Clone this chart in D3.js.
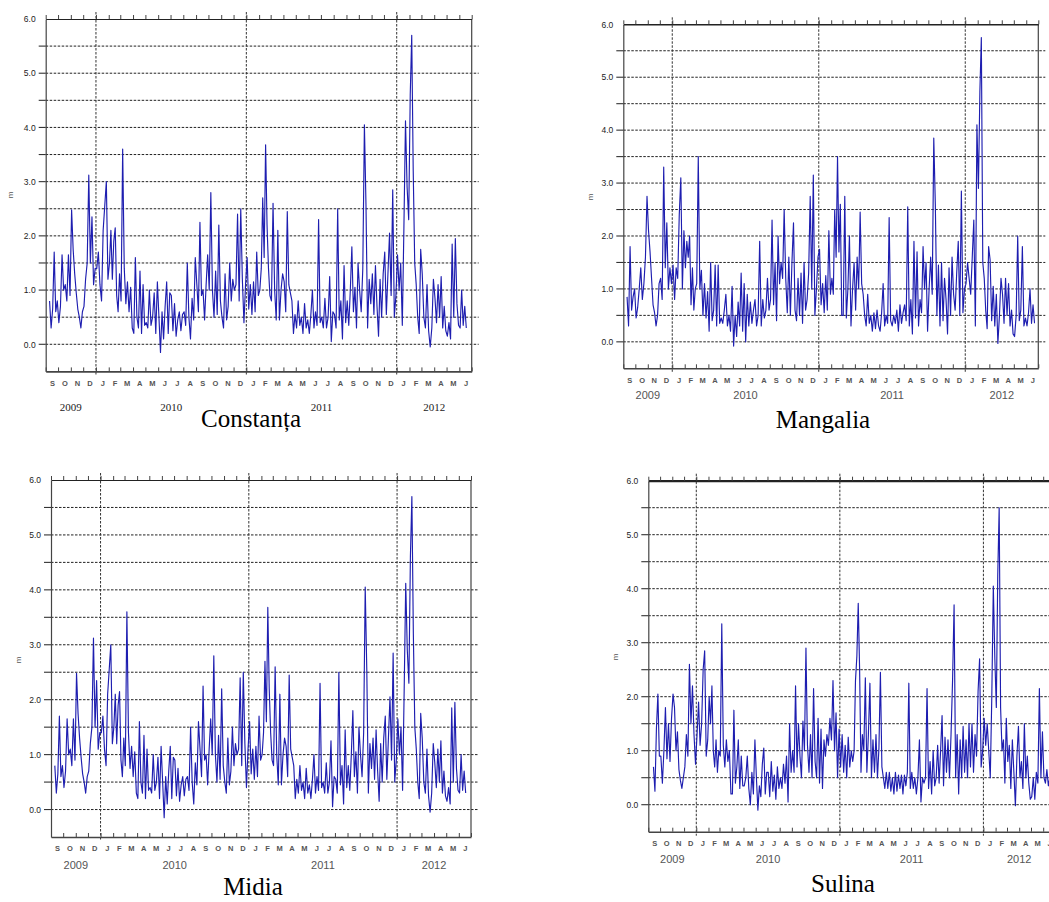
<!DOCTYPE html>
<html>
<head>
<meta charset="utf-8">
<script src="https://cdn.jsdelivr.net/npm/d3@7"></script>
<style>
body { margin: 0; background: #fff; }
</style>
</head>
<body>
<script>
// Significant wave height (m), 8 readings per month, Sep 2009 .. Jun 2012
var monthLetters = ["S","O","N","D","J","F","M","A","M","J","J","A","S","O","N","D",
                    "J","F","M","A","M","J","J","A","S","O","N","D","J","F","M","A","M","J"];
var years = [2009, 2010, 2011, 2012];
var yTicks = [0, 1, 2, 3, 4, 5, 6];
var gridLevels = [0, 0.5, 1, 1.5, 2, 2.5, 3, 3.5, 4, 4.5, 5, 5.5];

var constantaHs = [
    [null, null, 0.8, 0.3, 0.65, 1.7, 0.6, 0.8],
    [0.4, 0.7, 1.65, 1.0, 1.1, 0.8, 1.65, 0.9],
    [2.48, 1.75, 1.3, 0.95, 0.65, 0.5, 0.3, 0.6],
    [0.7, 1.2, 1.5, 3.12, 1.5, 2.35, 1.1, 1.4],
    [1.4, 1.7, 1.1, 0.8, 2.1, 2.55, 3.0, 1.2],
    [1.5, 2.1, 1.2, 1.9, 2.15, 0.9, 0.6, 1.3],
    [0.8, 3.6, 1.4, 0.75, 1.15, 0.6, 1.05, 0.3],
    [0.2, 1.6, 0.5, 0.3, 1.35, 0.2, 1.1, 0.35],
    [0.4, 0.3, 1.0, 0.35, 0.5, 0.95, 0.2, 1.15],
    [0.5, -0.15, 0.6, 0.1, 0.7, 1.15, 0.2, 0.95],
    [0.9, 0.25, 0.75, 0.15, 0.45, 0.6, 0.25, 0.55],
    [0.6, 0.35, 1.5, 0.5, 0.1, 0.85, 0.45, 1.6],
    [1.1, 0.6, 2.25, 0.9, 1.0, 0.45, 1.1, 1.65],
    [1.0, 2.8, 1.0, 0.5, 1.35, 0.55, 2.2, 0.8],
    [0.5, 0.3, 1.3, 0.45, 0.7, 1.5, 0.8, 1.2],
    [1.0, 1.1, 2.4, 0.8, 2.5, 1.2, 0.4, 1.1],
    [1.6, 0.65, 1.1, 0.55, 1.15, 0.6, 1.7, 0.9],
    [1.0, 1.4, 2.7, 1.6, 3.68, 2.2, 1.4, 0.9],
    [0.8, 2.6, 1.0, 0.45, 2.1, 0.45, 1.0, 1.3],
    [1.15, 0.6, 2.45, 1.1, 0.95, 0.8, 0.2, 0.55],
    [0.3, 0.8, 0.35, 0.5, 0.2, 0.75, 0.3, 0.45],
    [0.2, 0.55, 1.0, 0.3, 0.6, 0.35, 2.3, 0.4],
    [0.5, 0.3, 0.85, 0.3, 0.5, 1.25, 0.05, 0.6],
    [0.55, 0.3, 2.5, 0.45, 0.8, 0.1, 1.45, 0.4],
    [0.8, 0.35, 1.0, 1.8, 0.6, 1.05, 0.3, 1.5],
    [1.0, 0.6, 1.4, 4.05, 2.55, 0.3, 1.2, 0.75],
    [1.3, 0.55, 1.45, 0.7, 0.15, 1.2, 0.5, 1.3],
    [1.7, 0.55, 1.3, 2.05, 0.9, 2.85, 0.5, 0.9],
    [1.65, 1.0, 1.5, 0.35, 2.15, 4.12, 2.9, 2.3],
    [4.6, 5.7, 3.2, 1.5, 1.1, 0.5, 0.2, 1.75],
    [1.3, 0.5, 0.3, 1.1, 0.25, -0.05, 0.3, 1.2],
    [0.85, 0.4, 1.1, 0.5, 1.25, 0.3, 0.7, 0.25],
    [0.15, 0.4, 0.1, 1.85, 0.5, 1.95, 0.75, 0.35],
    [0.3, 1.0, 0.35, 0.7, 0.3, null, null, null]
];

var mangaliaHs = [
    [null, null, 0.85, 0.3, 1.8, 0.6, 0.85, 1.0],
    [0.45, 0.65, 1.0, 1.4, 0.8, 1.1, 1.6, 2.75],
    [2.1, 1.7, 1.2, 0.7, 0.55, 0.3, 0.5, 1.1],
    [1.2, 0.8, 3.3, 1.4, 2.25, 1.0, 1.4, 1.1],
    [1.45, 0.8, 1.4, 1.2, 2.4, 3.1, 1.0, 2.1],
    [1.4, 1.9, 1.6, 2.0, 0.7, 1.4, 0.6, 1.0],
    [1.1, 3.5, 1.0, 1.35, 0.5, 1.1, 0.45, 0.95],
    [0.2, 1.5, 0.4, 0.6, 1.45, 0.3, 1.45, 0.35],
    [0.45, 0.35, 0.6, 0.9, 0.3, 0.5, 0.2, 1.05],
    [-0.08, 0.5, 0.1, 0.75, 0.3, 1.3, 0.2, 1.1],
    [0.0, 0.9, 0.3, 0.75, 0.35, 0.6, 0.8, 0.3],
    [0.5, 1.9, 0.3, 0.8, 0.45, 0.6, 1.2, 0.6],
    [0.8, 2.3, 0.7, 1.5, 0.4, 2.0, 1.1, 1.5],
    [1.2, 2.5, 1.2, 0.55, 1.6, 0.5, 1.5, 2.25],
    [0.6, 0.4, 1.2, 0.5, 1.3, 0.35, 1.5, 0.6],
    [0.8, 1.3, 2.75, 1.0, 3.15, 0.5, 1.0, 1.6],
    [1.75, 0.7, 1.1, 0.55, 1.25, 0.6, 2.1, 0.9],
    [1.2, 0.9, 2.5, 1.6, 3.5, 1.7, 2.6, 0.5],
    [0.5, 2.75, 0.45, 1.0, 2.0, 0.3, 1.0, 1.5],
    [0.6, 1.6, 1.0, 2.45, 1.1, 0.9, 0.5, 0.3],
    [0.9, 0.35, 0.5, 0.2, 0.55, 0.25, 0.6, 0.3],
    [0.2, 0.55, 1.1, 0.3, 0.5, 0.35, 2.35, 0.4],
    [0.3, 0.5, 0.35, 0.6, 0.2, 0.7, 0.35, 0.55],
    [0.7, 0.4, 2.55, 0.3, 0.8, 0.15, 1.9, 0.45],
    [1.7, 0.3, 0.8, 0.55, 1.8, 1.0, 1.5, 0.2],
    [1.0, 1.6, 0.9, 3.85, 2.6, 0.5, 1.45, 0.3],
    [1.5, 0.4, 1.2, 0.8, 0.15, 1.4, 0.5, 1.6],
    [0.9, 0.6, 1.3, 1.9, 0.5, 2.85, 0.55, 1.0],
    [1.1, 1.5, 1.2, 0.9, 1.6, 2.3, 0.3, 4.1],
    [2.9, 4.72, 5.75, 1.5, 1.2, 0.6, 0.25, 1.8],
    [1.55, 0.4, 1.05, 0.3, 0.9, -0.03, 0.5, 1.2],
    [0.9, 0.35, 1.2, 0.5, 1.1, 0.3, 0.6, 0.15],
    [0.1, 0.5, 2.0, 0.4, 0.6, 1.8, 0.3, 0.45],
    [0.3, 0.55, 1.0, 0.35, 0.7, 0.35, null, null]
];

// Midia reads the same as Constanta in the picture
var midiaHs = constantaHs;

var sulinaHs = [
    [null, null, null, 0.7, 0.25, 1.4, 2.05, 0.9],
    [0.9, 0.4, 1.0, 1.8, 0.85, 1.5, 0.8, 1.6],
    [2.05, 1.8, 1.0, 1.35, 0.65, 0.45, 0.3, 0.5],
    [0.7, 1.3, 0.9, 2.6, 1.5, 2.2, 1.3, 0.75],
    [1.3, 1.9, 1.1, 1.5, 2.5, 2.85, 0.9, 1.2],
    [2.0, 1.5, 2.2, 1.0, 0.7, 1.2, 0.6, 1.0],
    [0.9, 3.35, 1.1, 0.7, 1.2, 0.8, 1.0, 0.2],
    [0.2, 1.75, 0.4, 0.7, 1.2, 0.3, 0.9, 0.35],
    [0.35, 0.5, 0.9, 0.3, 0.0, 0.6, 0.2, 1.2],
    [0.5, -0.1, 0.35, 0.15, 0.75, 1.05, 0.2, 0.6],
    [0.6, 0.15, 0.8, 0.25, 0.55, 0.1, 0.7, 0.3],
    [0.5, 0.3, 0.75, 0.4, 0.9, 0.05, 1.5, 0.6],
    [1.0, 0.6, 2.2, 0.7, 1.5, 0.9, 0.5, 1.55],
    [1.0, 2.9, 1.1, 0.6, 1.3, 0.5, 2.15, 0.8],
    [0.5, 1.6, 0.4, 1.4, 0.3, 1.2, 0.9, 1.3],
    [1.1, 1.6, 1.2, 2.3, 1.0, 1.7, 0.5, 1.4],
    [0.7, 1.3, 0.6, 1.1, 0.5, 1.25, 0.7, 1.0],
    [0.8, 1.0, 2.3, 2.75, 3.73, 2.5, 0.6, 1.3],
    [1.0, 2.35, 0.6, 1.3, 2.25, 0.5, 1.2, 0.6],
    [1.3, 0.5, 1.05, 2.45, 0.7, 0.5, 0.3, 0.6],
    [0.3, 0.6, 0.25, 0.5, 0.2, 0.6, 0.25, 0.55],
    [0.3, 0.55, 0.2, 0.55, 0.35, 0.6, 2.25, 0.3],
    [0.6, 0.3, 0.5, 0.2, 0.5, 1.2, 0.05, 0.5],
    [0.4, 0.5, 2.15, 0.3, 0.8, 0.2, 1.0, 0.35],
    [0.5, 1.1, 0.4, 1.0, 1.65, 0.35, 1.25, 0.6],
    [1.2, 0.5, 1.3, 2.3, 3.7, 0.5, 1.3, 0.2],
    [1.2, 0.5, 1.45, 0.6, 1.2, 0.5, 1.5, 0.7],
    [1.5, 0.6, 1.3, 0.9, 2.1, 2.7, 0.7, 1.0],
    [1.6, 1.1, 1.5, 1.0, 0.5, 2.0, 4.05, 2.7],
    [1.8, 4.25, 5.5, 1.8, 1.0, 1.2, 0.4, 1.6],
    [0.8, 1.1, 0.3, 1.2, 0.6, -0.02, 0.9, 1.45],
    [0.5, 0.8, 0.3, 1.5, 0.5, 0.9, 0.4, 0.1],
    [0.15, 0.5, 0.1, 0.6, 0.4, 2.15, 0.5, 1.35],
    [0.5, 0.4, 0.65, 0.35, 0.5, 0.3, null, null]
];

var startMonth = new Date(2009, 8, 1);
var endMonth = new Date(2012, 6, 1);

// SVG Dimensions
var width = 1049;
var height = 902;

// layout of the four pictures on the page
var panels = [
    { title: "Constanța", values: constantaHs, left: 45.7, right: 471.7, top: 19, bottom: 371.4,
      yearFont: "'Liberation Serif', serif", yearSize: 11, yearDy: 40, mPos: [13, 195], capPos: [251, 427], topWidth: 1.2 },
    { title: "Mangalia", values: mangaliaHs, left: 623.3, right: 1038.3, top: 24.3, bottom: 368.3,
      yearFont: "'Liberation Sans', sans-serif", yearSize: 11, yearDy: 31, mPos: [593, 197], capPos: [823, 428], topWidth: 1.6 },
    { title: "Midia", values: midiaHs, left: 51, right: 471, top: 480, bottom: 837,
      yearFont: "'Liberation Sans', sans-serif", yearSize: 11, yearDy: 32, mPos: [21, 660], capPos: [253, 895], topWidth: 1.2 },
    { title: "Sulina", values: sulinaHs, left: 648.3, right: 1055, top: 480.7, bottom: 831.7,
      yearFont: "'Liberation Sans', sans-serif", yearSize: 11, yearDy: 31, mPos: [618, 657], capPos: [843, 892], topWidth: 2.2 }
];

var svg = d3.select("body").append("svg")
            .attr("width", width)
            .attr("height", height)
            .style("font-family", "'Liberation Sans', Arial, sans-serif");

// spread each month's readings evenly over that month
function toPoints(monthly) {
    var points = [];
    monthly.forEach(function(vals, m) {
        var t0 = d3.timeMonth.offset(startMonth, m).getTime();
        var t1 = d3.timeMonth.offset(startMonth, m + 1).getTime();
        vals.forEach(function(v, i) {
            points.push({ date: new Date(t0 + (t1 - t0) * (i + 0.5) / vals.length), hs: v });
        });
    });
    return points;
}

var midMonths = d3.timeMonth.range(startMonth, endMonth).map(function(d) {
    return new Date((d.getTime() + d3.timeMonth.offset(d, 1).getTime()) / 2);
});

panels.forEach(function(p, pi) {
    var x = d3.scaleTime().domain([startMonth, endMonth]).range([p.left, p.right]);
    var y = d3.scaleLinear().domain([-0.5, 6]).range([p.bottom, p.top]);
    var g = svg.append("g").attr("class", "panel");

    // horizontal grid, solid outward tick on the left then dashed
    g.selectAll(".tick-left").data(gridLevels).enter().append("line")
        .attr("x1", p.left - 7).attr("x2", p.left)
        .attr("y1", d => y(d)).attr("y2", d => y(d))
        .attr("stroke", "#333").attr("stroke-width", 1.1);
    g.selectAll(".hgrid").data(gridLevels).enter().append("line")
        .attr("x1", p.left).attr("x2", p.right + 7)
        .attr("y1", d => y(d)).attr("y2", d => y(d))
        .attr("stroke", "#222").attr("stroke-width", 1)
        .attr("stroke-dasharray", "2.5,1.5");

    // year boundaries
    var yearStarts = years.slice(1).map(yr => new Date(yr, 0, 1));
    g.selectAll(".vgrid").data(yearStarts).enter().append("line")
        .attr("x1", d => x(d)).attr("x2", d => x(d))
        .attr("y1", p.top - 7).attr("y2", p.bottom + 4)
        .attr("stroke", "#333").attr("stroke-width", 1)
        .attr("stroke-dasharray", "2.5,1.5");

    // series
    svg.append("clipPath").attr("id", "clip" + pi)
        .append("rect")
        .attr("x", p.left).attr("y", p.top)
        .attr("width", p.right - p.left).attr("height", p.bottom - p.top);

    var line = d3.line()
        .defined(d => d.hs !== null)
        .x(d => x(d.date))
        .y(d => y(d.hs));

    g.append("path")
        .datum(toPoints(p.values))
        .attr("clip-path", "url(#clip" + pi + ")")
        .attr("d", line)
        .attr("fill", "none")
        .attr("stroke", "#1e1eb0")
        .attr("stroke-width", 1.15)
        .attr("stroke-linejoin", "round");

    // frame and axes
    var leftAxis = g.append("g")
        .attr("transform", "translate(" + p.left + ",0)")
        .call(d3.axisLeft(y).tickValues(yTicks).tickFormat(d3.format(".1f")).tickSize(0).tickPadding(10));
    leftAxis.select(".domain").attr("stroke", "#444").attr("stroke-width", 1.2);
    leftAxis.selectAll("text").attr("font-size", 8.5).attr("fill", "#222").attr("font-family", "'Liberation Sans', sans-serif");

    g.append("line")
        .attr("x1", p.right).attr("x2", p.right)
        .attr("y1", p.top).attr("y2", p.bottom)
        .attr("stroke", "#444").attr("stroke-width", 1.2);

    var bottomAxis = g.append("g")
        .attr("transform", "translate(0," + p.bottom + ")")
        .call(d3.axisBottom(x).ticks(d3.timeMonth.every(1)).tickSize(-4).tickSizeOuter(0).tickFormat(""));
    bottomAxis.select(".domain").attr("stroke", "#444").attr("stroke-width", 1.6);
    bottomAxis.selectAll(".tick line").attr("stroke", "#444");

    var topAxis = g.append("g")
        .attr("transform", "translate(0," + p.top + ")")
        .call(d3.axisTop(x).ticks(d3.timeMonth.every(1)).tickSize(4).tickSizeOuter(0).tickFormat(""));
    topAxis.select(".domain").attr("stroke", "#222").attr("stroke-width", p.topWidth);
    topAxis.selectAll(".tick line").attr("stroke", "#444");

    // month letters
    var monthAxis = g.append("g")
        .attr("transform", "translate(0," + p.bottom + ")")
        .call(d3.axisBottom(x).tickValues(midMonths).tickFormat((d, i) => monthLetters[i]).tickSize(0).tickPadding(9));
    monthAxis.select(".domain").remove();
    monthAxis.selectAll("text").attr("font-size", 7.5).attr("font-weight", "bold")
        .attr("fill", "#555").attr("font-family", "'Liberation Sans', sans-serif");

    // year labels, centred on the part of each year that is shown
    g.selectAll(".year").data(years).enter().append("text")
        .attr("x", function(yr) {
            var a = d3.max([startMonth, new Date(yr, 0, 1)]);
            var b = d3.min([endMonth, new Date(yr + 1, 0, 1)]);
            return (x(a) + x(b)) / 2;
        })
        .attr("y", p.bottom + p.yearDy)
        .attr("text-anchor", "middle")
        .attr("font-family", p.yearFont)
        .attr("font-size", p.yearSize)
        .attr("fill", pi === 0 ? "#222" : "#555")
        .text(d => d);

    g.append("text")
        .attr("transform", "translate(" + p.mPos[0] + "," + p.mPos[1] + ") rotate(-90)")
        .attr("text-anchor", "middle")
        .attr("font-size", 8)
        .attr("fill", "#555")
        .text("m");

    svg.append("text")
        .attr("x", p.capPos[0]).attr("y", p.capPos[1])
        .attr("text-anchor", "middle")
        .attr("font-family", "'Liberation Serif', 'Times New Roman', serif")
        .attr("font-size", 25)
        .attr("fill", "#000")
        .text(p.title);
});
</script>
</body>
</html>
